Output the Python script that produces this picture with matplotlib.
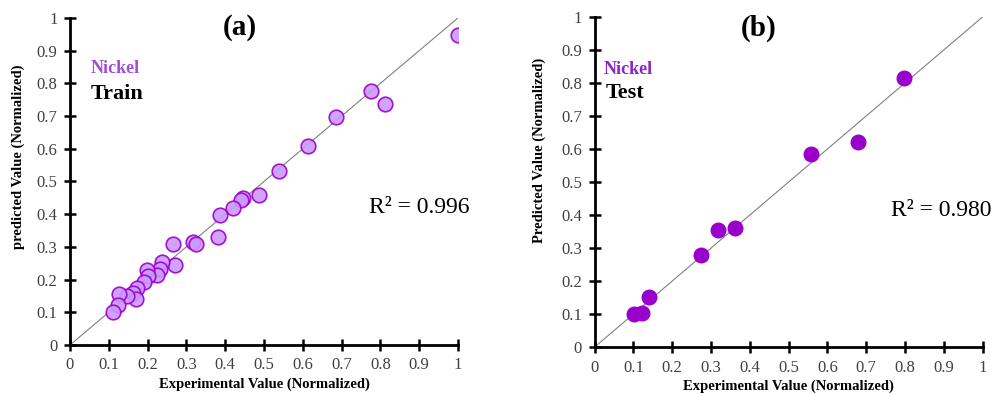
import numpy as np
import matplotlib
matplotlib.use('Agg')
import matplotlib.pyplot as plt

plt.rcParams['font.family'] = 'Liberation Serif'

# train set (experimental, predicted)
train_exp = [1.0, 0.776, 0.811, 0.686, 0.613, 0.539, 0.486, 0.446, 0.441, 0.420,
             0.387, 0.381, 0.318, 0.325, 0.266, 0.272, 0.236, 0.232, 0.225, 0.199,
             0.200, 0.192, 0.172, 0.163, 0.171, 0.148, 0.126, 0.125, 0.111]
train_pred = [0.948, 0.777, 0.737, 0.697, 0.609, 0.532, 0.458, 0.449, 0.443, 0.418,
              0.397, 0.329, 0.315, 0.308, 0.309, 0.244, 0.253, 0.233, 0.214, 0.228,
              0.212, 0.192, 0.173, 0.160, 0.140, 0.150, 0.157, 0.122, 0.101]

# test set
test_exp = [0.798, 0.678, 0.558, 0.363, 0.317, 0.275, 0.139, 0.121, 0.101]
test_pred = [0.814, 0.621, 0.584, 0.361, 0.356, 0.278, 0.151, 0.103, 0.101]

ticks = np.round(np.arange(0, 1.01, 0.1), 1)
tick_labels = ['0', '0.1', '0.2', '0.3', '0.4', '0.5', '0.6', '0.7', '0.8', '0.9', '1']

fig = plt.figure(figsize=(9.91, 3.94), dpi=100)
ax1 = fig.add_axes([0.0706, 0.1244, 0.3915, 0.830])
ax2 = fig.add_axes([0.600, 0.119, 0.3915, 0.838])


def style_axes(ax, ylabel, label_xy):
    ax.set_xlim(0, 1)
    ax.set_ylim(0, 1)
    ax.plot([0, 1], [0, 1], color='#808080', lw=0.8, zorder=1)
    for s in ['top', 'right']:
        ax.spines[s].set_visible(False)
    for s in ['left', 'bottom']:
        ax.spines[s].set_linewidth(2)
    ax.set_xticks(ticks)
    ax.set_yticks(ticks)
    ax.set_xticklabels(tick_labels)
    ax.set_yticklabels(tick_labels)
    ax.tick_params(direction='inout', length=8, width=1.8, labelsize=12, pad=5,
                   labelcolor='#404040')
    ax.set_xlabel('Experimental Value (Normalized)', fontsize=10.5, fontweight='bold', labelpad=3)
    ax.set_ylabel(ylabel, fontsize=10.5, fontweight='bold')
    ax.yaxis.set_label_coords(*label_xy)


style_axes(ax1, 'predicted Value (Normalized)', (-0.116, 0.575))
ax1.scatter(train_exp, train_pred, s=110, facecolor='#CC99FF', edgecolor='#9900CC',
            linewidth=1.2, alpha=0.9, zorder=3)
ax1.text(0.438, 0.97, '(a)', fontsize=21, fontweight='bold', ha='center', va='center',
         transform=ax1.transAxes)
ax1.text(0.053, 0.844, 'Nickel', fontsize=13, fontweight='bold', color='#9F4FD6',
         transform=ax1.transAxes, va='center')
ax1.text(0.053, 0.767, 'Train', fontsize=16, fontweight='bold', color='black',
         transform=ax1.transAxes, va='center')
ax1.text(0.77, 0.42, 'R² = 0.996', fontsize=17, transform=ax1.transAxes, va='center')

style_axes(ax2, 'Predicted Value (Normalized)', (-0.126, 0.597))
ax2.scatter(test_exp, test_pred, s=110, facecolor='#9900CC', edgecolor='#9900CC',
            linewidth=1.0, zorder=3)
ax2.text(0.423, 0.967, '(b)', fontsize=21, fontweight='bold', ha='center', va='center',
         transform=ax2.transAxes)
ax2.text(0.023, 0.842, 'Nickel', fontsize=13, fontweight='bold', color='#8E24C8',
         transform=ax2.transAxes, va='center')
ax2.text(0.028, 0.77, 'Test', fontsize=16, fontweight='bold', color='black',
         transform=ax2.transAxes, va='center')
ax2.text(0.765, 0.413, 'R² = 0.980', fontsize=17, transform=ax2.transAxes, va='center')

fig.savefig('out.png', dpi=100)
